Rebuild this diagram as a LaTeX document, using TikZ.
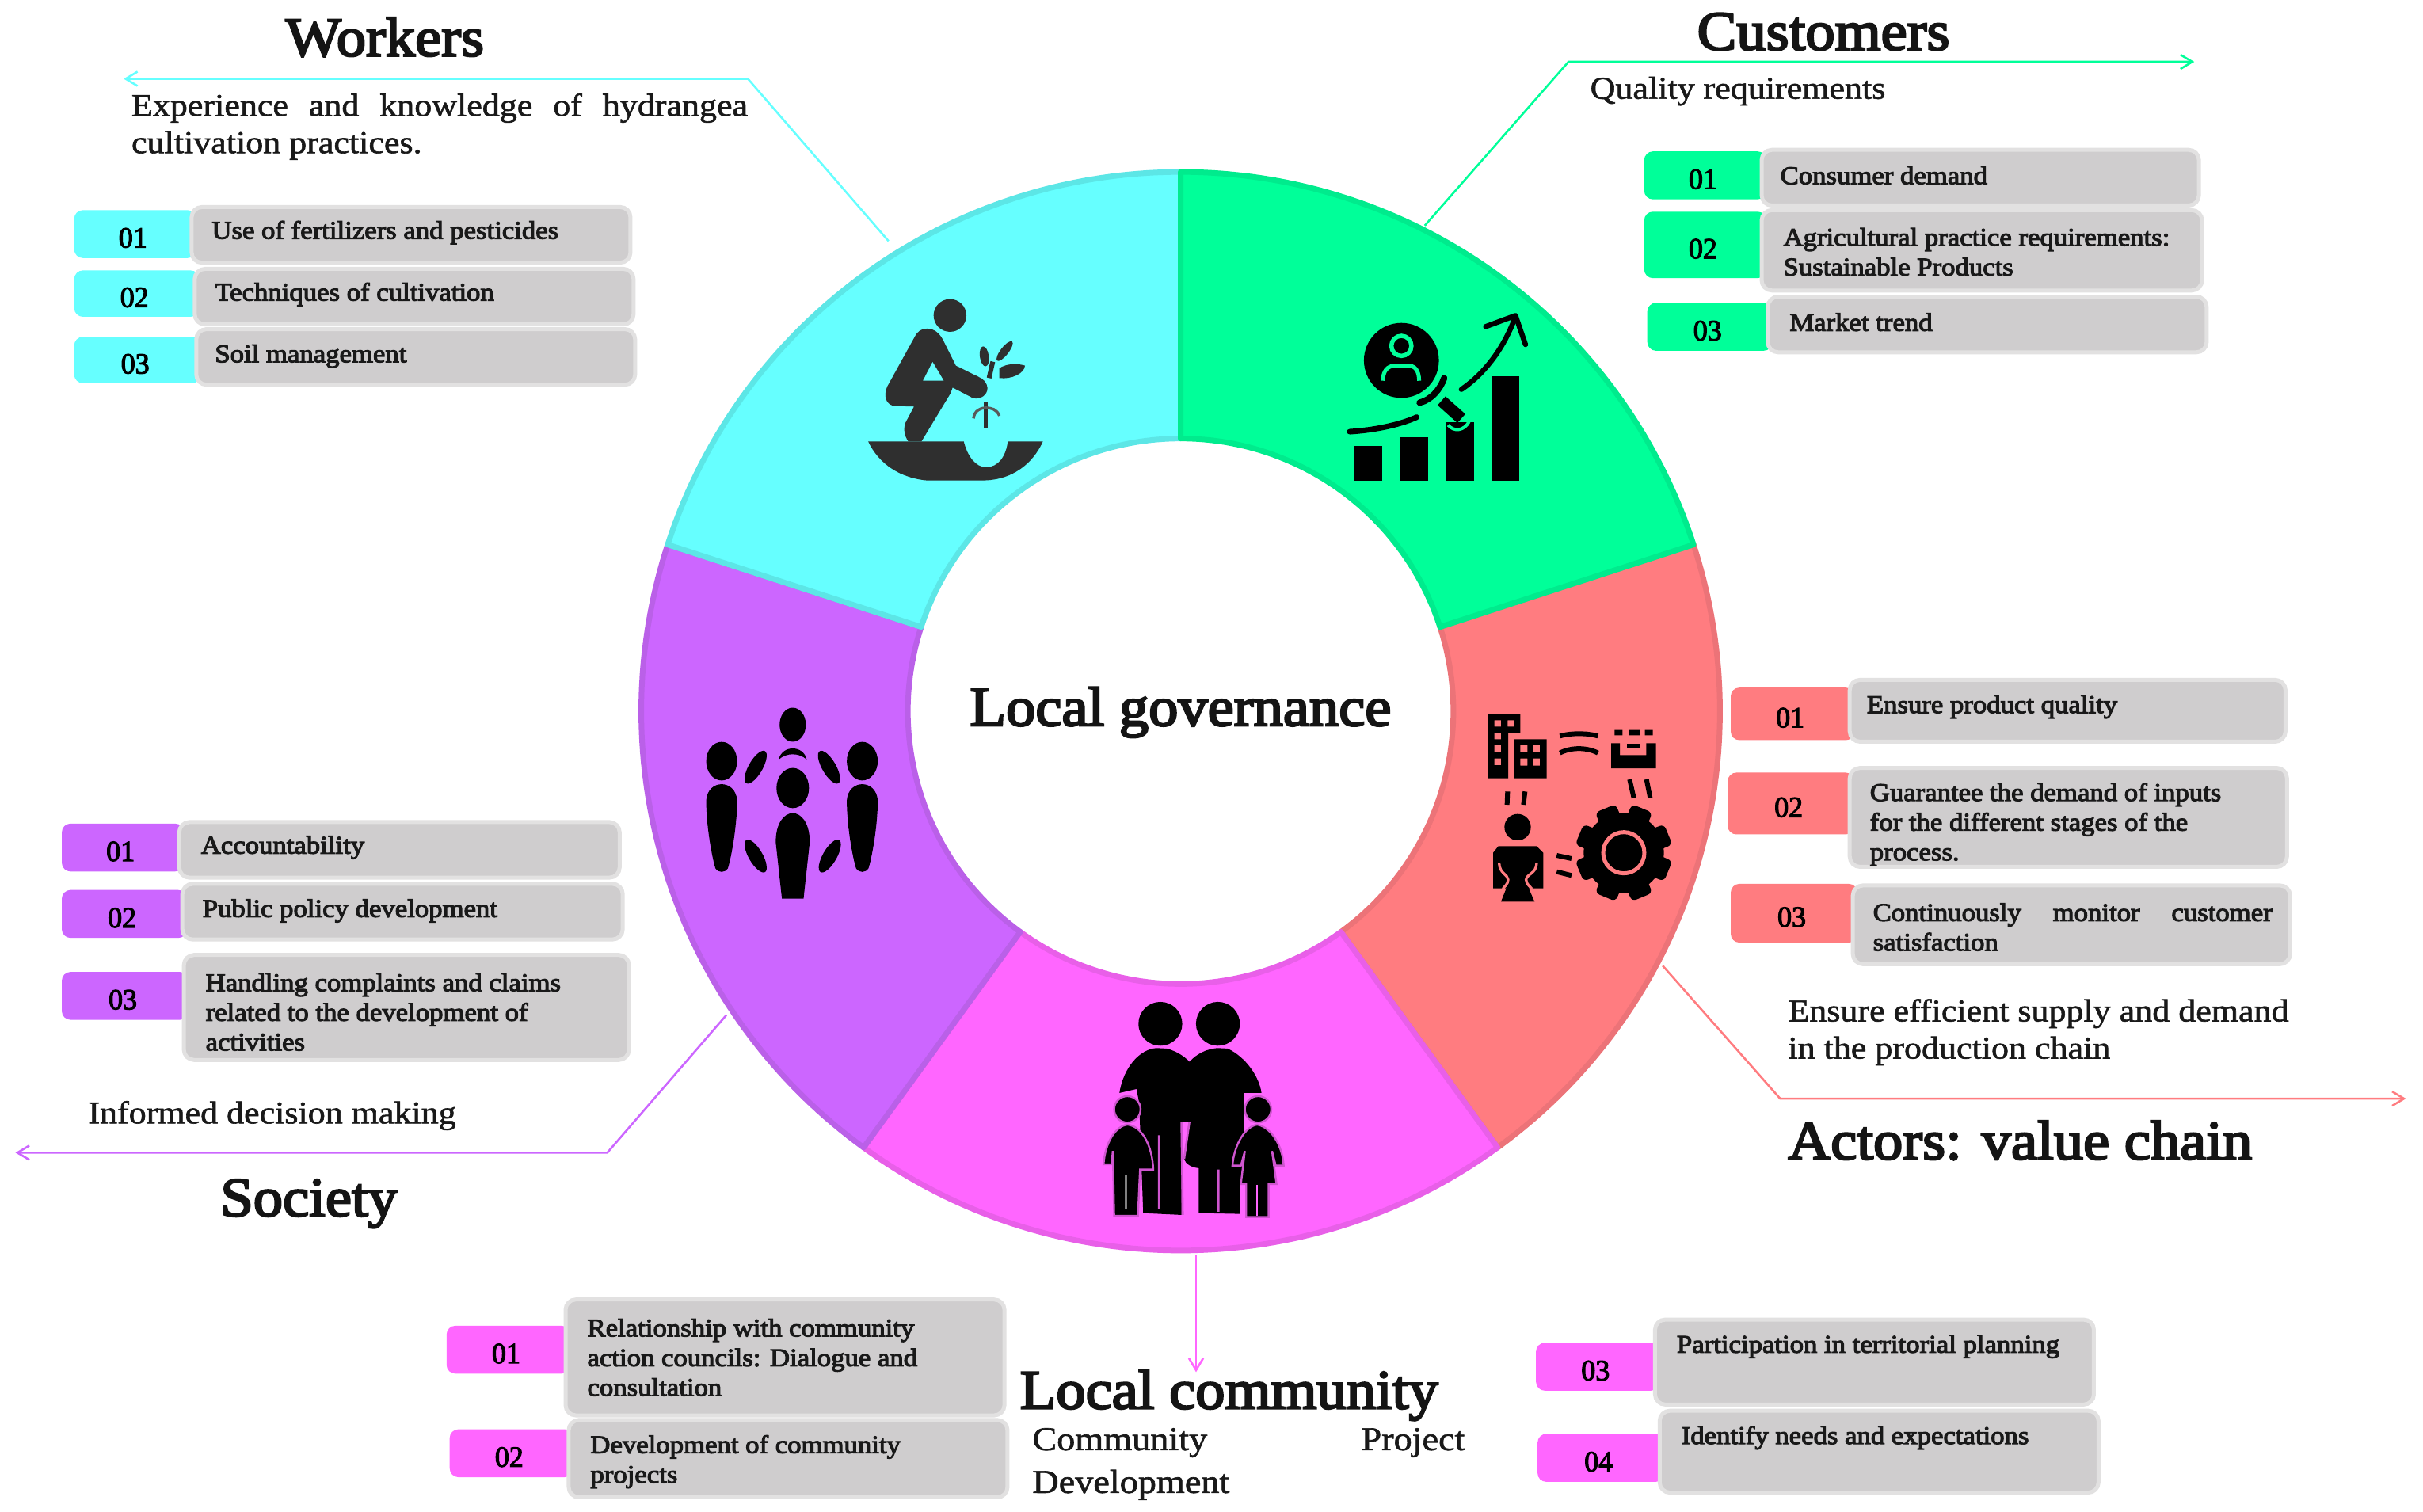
\documentclass[tikz,border=0pt]{standalone}
\usepackage{fontspec}
\setmainfont{Liberation Serif}
\newfontfamily\itemfont[FakeStretch=1.085,FakeBold=3.5]{Liberation Serif}
\newfontfamily\plainfont[FakeStretch=1.10,FakeBold=1.5]{Liberation Serif}
\newfontfamily\numfont[FakeStretch=0.97,FakeBold=3]{Liberation Serif}
\newfontfamily\titlefont[FakeStretch=1.065,FakeBold=3.5]{Liberation Serif}
\usetikzlibrary{arrows.meta,calc}
\definecolor{cy}{HTML}{66FFFF}\definecolor{cyd}{HTML}{5CE6E6}
\definecolor{gr}{HTML}{00FF99}\definecolor{grd}{HTML}{00EB8D}
\definecolor{rd}{HTML}{FF7C80}\definecolor{rdd}{HTML}{EC7378}
\definecolor{mg}{HTML}{FF66FF}\definecolor{mgd}{HTML}{E85FE8}
\definecolor{pu}{HTML}{CC66FF}\definecolor{pud}{HTML}{BA60E8}
\definecolor{halo}{HTML}{CF55CF}
\definecolor{greybox}{HTML}{CFCDCE}\definecolor{greyedge}{HTML}{E2E1E1}
\definecolor{darkicon}{HTML}{2F2F2F}
\tikzset{
 seg/.style={line width=7pt,line join=round},
 lead/.style={line width=2.6pt,-{Straight Barb[length=15pt,width=18pt]}},
 greyitem/.style={fill=greybox,draw=greyedge,line width=5pt,rounded corners=13pt},
 numitem/.style={rounded corners=11pt},
 numtext/.style={font=\numfont\fontsize{37}{40}\selectfont,inner sep=0pt},
 itemtext/.style={font=\itemfont\fontsize{32}{37.5}\selectfont,anchor=west,align=left,inner sep=0pt,text=black!90},
 bodytext/.style={font=\plainfont\fontsize{40}{47}\selectfont,anchor=west,align=left,inner sep=0pt,text=black!90},
 titletext/.style={font=\titlefont\fontsize{70}{76}\selectfont,inner sep=0pt,text=black!92},
 iconzoom/.style={x=0.33333pt,y=-0.33333pt},
}
\newcommand{\itemrow}[9]{%
 \path[numitem,fill=#2] (#4,#7) rectangle (#5+3,#8);
 \node[numtext] (#1n) at ({(#4+#5)/2},{(#7+#8)/2+2.5}) {#3};
 \itemrest{#1}{#5}{#6}#9}
\def\itemrest#1#2#3#4#5#6#7#8{%
 \path[greyitem] (#2,#4) rectangle (#3,#5);
 \node[itemtext] (#1t) at (#6,#7+0.5) {#8};}
\begin{document}
\begin{tikzpicture}[x=1.95089pt,y=-1.95089pt]
\useasboundingbox[fill=white] (0,0) rectangle (1568,978.5);
% ring
\begin{scope}[shift={(764,460.3)},x=1.95089pt,y=1.95089pt]
 \foreach \a/\b/\c/\d in {18/-54/rd/rdd,-54/-126/mg/mgd,-126/-198/pu/pud,162/90/cy/cyd,90/18/gr/grd}{
  \draw[seg,fill=\c,draw=\d] (\a:176.5) -- (\a:349) arc[start angle=\a,end angle=\b,radius=349] -- (\b:176.5) arc[start angle=\b,end angle=\a,radius=176.5] -- cycle;
 }
\end{scope}
\node[titletext] (centre) at (764,461) {Local governance};
% connectors
\coordinate (wA) at (575,156); \coordinate (wB) at (484,51); \coordinate (wC) at (80,51);
\coordinate (cA) at (922,146); \coordinate (cB) at (1015,40); \coordinate (cC) at (1420,40);
\coordinate (aA) at (1076,625); \coordinate (aB) at (1152,711); \coordinate (aC) at (1557,711);
\coordinate (sA) at (470,657); \coordinate (sB) at (393,746); \coordinate (sC) at (10,746);
\coordinate (lA) at (774,812); \coordinate (lB) at (774,888);
\draw[lead,cy] (wA) -- (wB) -- (wC);
\draw[lead,gr] (cA) -- (cB) -- (cC);
\draw[lead,rd] (aA) -- (aB) -- (aC);
\draw[lead,pu] (sA) -- (sB) -- (sC);
\draw[lead,mg] (lA) -- (lB);
% titles
\node[titletext] (workers) at (249,24) {Workers};
\node[titletext] (customers) at (1180,20.5) {Customers};
\node[titletext,anchor=west] (actors) at (1157,738) {Actors: value chain};
\node[titletext] (society) at (200,779) {Society};
\node[titletext,anchor=west] (community) at (660,903) {Local community};
% body text
\node[bodytext] (wtext) at (85,82) {\makebox[778pt][s]{Experience and knowledge of hydrangea}\\cultivation practices.};
\node[bodytext] (ctext) at (1029,59) {Quality requirements};
\node[bodytext] (atext) at (1157,668) {Ensure efficient supply and demand\\in the production chain};
\node[bodytext] (stext) at (57,722) {Informed decision making};
\node[bodytext,font=\plainfont\fontsize{42}{54}\selectfont] (ltext) at (668,947.5) {\makebox[546pt][s]{Community Project}\\Development};
% workers items
\itemrow{wa}{cy}{01}{48}{124}{408}{136}{167}{{134}{170}{137}{150}{Use of fertilizers and pesticides}}
\itemrow{wb}{cy}{02}{48}{126}{410}{175}{205}{{174}{210}{139}{190}{Techniques of cultivation}}
\itemrow{wc}{cy}{03}{48}{127}{411}{218}{248}{{213}{249}{139}{230}{Soil management}}
% customers items
\itemrow{ca}{gr}{01}{1064}{1140}{1423}{98}{129}{{97}{133}{1152}{113}{Consumer demand}}
\itemrow{cb}{gr}{02}{1064}{1140}{1425}{137}{180}{{136}{188}{1154}{162.5}{Agricultural practice requirements:\\Sustainable Products}}
\itemrow{cc}{gr}{03}{1066}{1144}{1428}{196}{227}{{192}{228}{1158}{208}{Market trend}}
% actors items
\itemrow{aa}{rd}{01}{1120}{1197}{1479}{445}{479}{{440}{480}{1208}{457}{Ensure product quality}}
\itemrow{ab}{rd}{02}{1118}{1197}{1480}{500}{540}{{497}{561}{1210}{533}{Guarantee the demand of inputs\\for the different stages of the\\process.}}
\itemrow{ac}{rd}{03}{1120}{1199}{1482}{572}{610}{{573}{624}{1212}{599.5}{\makebox[504pt][s]{Continuously monitor customer}\\satisfaction}}
% society items
\itemrow{sa}{pu}{01}{40}{116}{401}{533}{564}{{532}{568}{130}{548}{Accountability}}
\itemrow{sb}{pu}{02}{40}{118}{403}{576}{607}{{572}{608}{131}{589}{Public policy development}}
\itemrow{sc}{pu}{03}{40}{119}{407}{629}{660}{{618}{686}{133}{654.5}{Handling complaints and claims\\related to the development of\\activities}}
% community items
\itemrow{la}{mg}{01}{289}{366}{650}{858}{889}{{841}{916}{380}{878}{Relationship with community\\action councils: Dialogue and\\consultation}}
\itemrow{lb}{mg}{02}{291}{368}{652}{925}{956}{{919}{969}{382}{945.5}{Development of community\\projects}}
\itemrow{lc}{mg}{03}{994}{1071}{1355}{869}{900}{{854}{909}{1085}{871}{Participation in territorial planning}}
\itemrow{ld}{mg}{04}{995}{1074}{1358}{928}{959}{{913}{966}{1088}{930}{Identify needs and expectations}}
% ---- icon: worker
\begin{scope}[shift={(553.6,184.5)},iconzoom,darkicon]
 \fill (358,115) circle (62);
 \fill[even odd rule] (270,165) .. controls (250,165) and (235,175) .. (225,195) -- (120,385) .. controls (105,420) and (115,450) .. (145,458) -- (222,460) -- (190,520) .. controls (180,545) and (185,570) .. (200,592) -- (250,592) -- (360,410) -- (368,388) -- (445,428) .. controls (475,435) and (500,415) .. (500,390) .. controls (498,370) and (485,355) .. (465,347) -- (380,305) -- (330,205) .. controls (315,178) and (295,165) .. (270,165) -- cycle
 (292,290) -- (255,362) -- (335,362) -- cycle;
 \fill (48,592) -- (410,592) .. controls (425,650) and (455,690) .. (495,690) .. controls (540,690) and (570,650) .. (577,592) -- (710,592) .. controls (670,680) and (590,740) .. (480,740) -- (270,740) .. controls (170,730) and (90,680) .. cycle;
 \fill[rotate around={8:(488,270)}] (488,270) ellipse (17 and 38);
 \fill[rotate around={-38:(565,250)}] (565,250) ellipse (15 and 46);
 \fill (545,315) .. controls (570,298) and (610,295) .. (642,305) .. controls (640,335) and (590,358) .. (545,352) -- cycle;
 \draw[line width=6pt] (506,352) -- (520,290);
 \draw[line width=5pt] (492,445) -- (492,540);
 \draw[line width=3.5pt,black!65] (447,505) .. controls (450,475) and (475,465) .. (492,465) .. controls (515,465) and (535,470) .. (545,495);
\end{scope}
% ---- icon: customers
\begin{scope}[shift={(861.1,194.8)},iconzoom,black]
 \fill (268,225) circle (142);
 \draw[gr,line width=5.5pt] (268,170) circle (38);
 \draw[gr,line width=5pt] (198,302) .. controls (198,265) and (215,245) .. (245,245) -- (295,245) .. controls (320,245) and (335,265) .. (335,302);
 \draw[line width=8pt,line cap=round] (337,385) .. controls (380,375) and (415,335) .. (430,292);
 \fill (88,548) rectangle (195,680);
 \fill (262,515) rectangle (368,680);
 \fill (435,460) rectangle (542,680);
 \draw[line width=15pt] (420,378) -- (495,445);
 \draw[gr,line width=4pt] (445,470) .. controls (465,495) and (505,495) .. (525,455);
 \fill (612,285) rectangle (715,680);
 \draw[line width=6.5pt,line cap=round] (495,335) .. controls (590,270) and (660,170) .. (700,58);
 \draw[line width=6.5pt,line cap=round,line join=round] (587,97) -- (700,55) -- (738,165);
 \draw[line width=7pt,line cap=round] (72,495) .. controls (160,490) and (260,470) .. (326,440);
\end{scope}
% ---- icon: society
\begin{scope}[black]
 \fill (513,469) ellipse (8.5 and 11);
 \fill (467,492.6) ellipse (10 and 12.5);
 \fill (558,492.6) ellipse (10 and 12.5);
 \fill (513,510) ellipse (10.5 and 13);
 \foreach \xx in {467,558}{
  \fill (\xx-10,518) .. controls (\xx-9,504) and (\xx+9,504) .. (\xx+10,518) .. controls (\xx+10,535) and (\xx+6,556) .. (\xx+4,562) .. controls (\xx+2,565) and (\xx-2,565) .. (\xx-4,562) .. controls (\xx-6,556) and (\xx-10,535) .. (\xx-10,518) -- cycle;
 }
 \fill (502,545) .. controls (502,520) and (524,520) .. (524,545) -- (520,581.6) -- (506,581.6) -- cycle;
 \fill[rotate around={-30:(489,496.5)}] (489,496.5) ellipse (4.5 and 12);
 \fill[rotate around={30:(536.5,496.5)}] (536.5,496.5) ellipse (4.5 and 12);
 \fill[rotate around={30:(489,554)}] (489,554) ellipse (4.5 and 12);
 \fill[rotate around={-30:(537,554)}] (537,554) ellipse (4.5 and 12);
 \fill (504,491.5) .. controls (506,482) and (520,482) .. (522,491.5) .. controls (517,487) and (509,487) .. cycle;
\end{scope}
% ---- icon: actors
\begin{scope}[shift={(953.4,456.2)},iconzoom,black]
 \fill[even odd rule] (55,35) -- (178,35) -- (178,105) -- (132,105) -- (132,278) -- (55,278) -- cycle
  (80,58) rectangle (105,82) (130,58) rectangle (155,82) (80,105) rectangle (105,130) (80,152) rectangle (105,178) (80,203) rectangle (105,228);
 \fill[even odd rule] (155,130) rectangle (278,278)
  (178,152) rectangle (205,180) (225,152) rectangle (252,180) (178,203) rectangle (205,230) (225,203) rectangle (252,230);
 \draw[line width=6pt] (328,118) .. controls (370,106) and (430,106) .. (472,118);
 \draw[line width=6pt] (328,182) .. controls (370,160) and (430,160) .. (472,182);
 \fill (522,145) -- (555,145) -- (555,190) -- (655,190) -- (655,145) -- (692,145) -- (692,240) -- (522,240) -- cycle;
 \fill (582,147) rectangle (632,163);
 \fill (535,95) rectangle (565,115) (590,95) rectangle (630,115) (650,95) rectangle (680,115);
 \draw[line width=6pt] (592,282) -- (608,352) (656,282) -- (670,352) (130,328) -- (128,378) (196,328) -- (190,378);
 \fill (168,463) circle (50);
 \fill (75,560) -- (95,535) -- (240,535) -- (265,560) -- (265,695) -- (210,695) -- (232,745) -- (105,745) -- (125,695) -- (75,695) -- cycle;
 \draw[rd,line width=3.3pt] (98,600) .. controls (100,640) and (130,640) .. (132,662) .. controls (132,680) and (115,690) .. (112,697);
 \draw[rd,line width=3.3pt] (240,600) .. controls (238,640) and (202,640) .. (200,662) .. controls (200,680) and (218,690) .. (222,697);
 \fill (570,560) circle (152);
 \foreach \t in {22.5,67.5,...,337.5}{
  \fill[rotate around={\t:(570,560)},rounded corners=6pt] (528,378) rectangle (612,470);
 }
 \draw[rd,line width=5pt] (570,560) circle (78);
 \draw[line width=6pt] (316,570) -- (372,582) (316,632) -- (372,646);
\end{scope}
% ---- icon: family
\begin{scope}[shift={(702.2,640.7)},iconzoom,black]
 \fill (285,128) circle (83);
 \fill (503,128) circle (83);
 \fill (130,390) .. controls (145,295) and (205,225) .. (270,220) -- (310,222) .. controls (345,232) and (375,250) .. (395,272) .. controls (425,240) and (460,224) .. (500,220) -- (540,222) .. controls (610,255) and (660,330) .. (668,390) -- (600,390) -- (600,660) -- (585,760) -- (585,848) -- (430,845) -- (430,675) .. controls (405,672) and (380,660) .. (375,640) -- (395,500) -- (365,500) -- (365,852) -- (220,845) -- (205,430) -- (195,375) -- cycle;
 \draw[halo,line width=2.6pt] (280,550) -- (280,830) (505,680) -- (505,840) (365,500) -- (370,852) (395,500) -- (375,640);
 \fill[draw=halo,line width=2.4pt] (160,452) circle (50);
 \fill[draw=halo,line width=2.4pt] (655,452) circle (50);
 \fill[draw=halo,line width=2.4pt] (70,660) .. controls (75,580) and (115,515) .. (160,510) .. controls (215,515) and (255,590) .. (258,680) -- (208,680) -- (200,855) -- (110,855) -- (105,610) -- (100,660) -- cycle;
 \draw[gray,line width=3pt] (155,700) -- (155,830);
 \fill[draw=halo,line width=2.4pt] (558,665) .. controls (565,580) and (610,515) .. (652,510) .. controls (705,520) and (748,590) .. (752,665) -- (722,665) -- (708,610) -- (725,735) -- (695,735) -- (695,860) -- (610,860) -- (610,735) -- (590,735) -- (605,610) -- (590,665) -- cycle;
 \draw[mg,line width=2.4pt] (652,738) -- (652,855);
\end{scope}
\end{tikzpicture}
\end{document}
